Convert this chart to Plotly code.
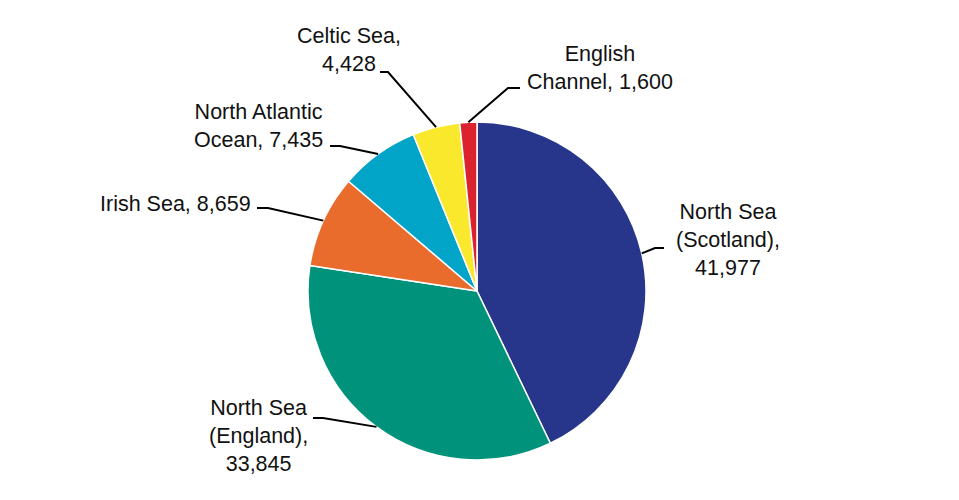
import math
import plotly.graph_objects as go

# data
regions = ["North Sea (Scotland)", "North Sea (England)", "Irish Sea",
           "North Atlantic Ocean", "Celtic Sea", "English Channel"]
values = [41977, 33845, 8659, 7435, 4428, 1600]
label_fmt = ["North Sea<br>(Scotland),<br>{}", "North Sea<br>(England),<br>{}",
             "Irish Sea, {}", "North Atlantic<br>Ocean, {}",
             "Celtic Sea,<br>{}", "English<br>Channel, {}"]
colors = ["#27368A", "#00927A", "#E96C2D", "#02A4C7", "#F9E82C", "#DB2330"]

W, H = 959, 500
OFF = 8  # page body margin
cx, cy, r = 477, 291, 169  # pie centre / radius in screen pixels

# label centres and leader-line start/knee, in screen pixels (layout only)
label_pos = [(728, 240), (258, 436), (175, 204), (258, 126), (349, 50), (600, 68)]
leader_start = [(664, 248), (313, 418), (257, 208), (330, 146), (380, 72), (520, 88)]
leader_knee = [(655, 248), (323, 418), (268, 208), (340, 146), (388, 72), (508, 88)]


def px(x, y):
    return (x - OFF) / W, 1 - (y - OFF) / H


x0, y1 = px(cx - r, cy - r)
x1, y0 = px(cx + r, cy + r)

fig = go.Figure(go.Pie(
    labels=regions,
    values=values,
    sort=False,
    direction="clockwise",
    rotation=0,
    textinfo="none",
    hoverinfo="label+value",
    marker=dict(colors=colors, line=dict(color="white", width=1.5)),
    domain=dict(x=[x0, x1], y=[y0, y1]),
))

total = sum(values)
cum = 0
for i, v in enumerate(values):
    mid = (cum + v / 2) / total * 2 * math.pi
    cum += v
    ex, ey = cx + r * math.sin(mid), cy - r * math.cos(mid)
    pts = [px(*leader_start[i]), px(*leader_knee[i]), px(ex, ey)]
    path = "M {} {} L {} {} L {} {}".format(*[c for p in pts for c in p])
    fig.add_shape(type="path", path=path, xref="paper", yref="paper",
                  line=dict(color="black", width=2))
    lx, ly = px(*label_pos[i])
    fig.add_annotation(x=lx, y=ly, xref="paper", yref="paper",
                       text=label_fmt[i].format(f"{v:,}"), showarrow=False,
                       xanchor="center", yanchor="middle", align="center",
                       font=dict(family="Liberation Sans, Arial", size=21.5, color="#111111"))

fig.update_layout(
    width=W, height=H,
    margin=dict(l=0, r=0, t=0, b=0),
    showlegend=False,
    paper_bgcolor="white",
    plot_bgcolor="white",
)

fig.write_html("out.html")
